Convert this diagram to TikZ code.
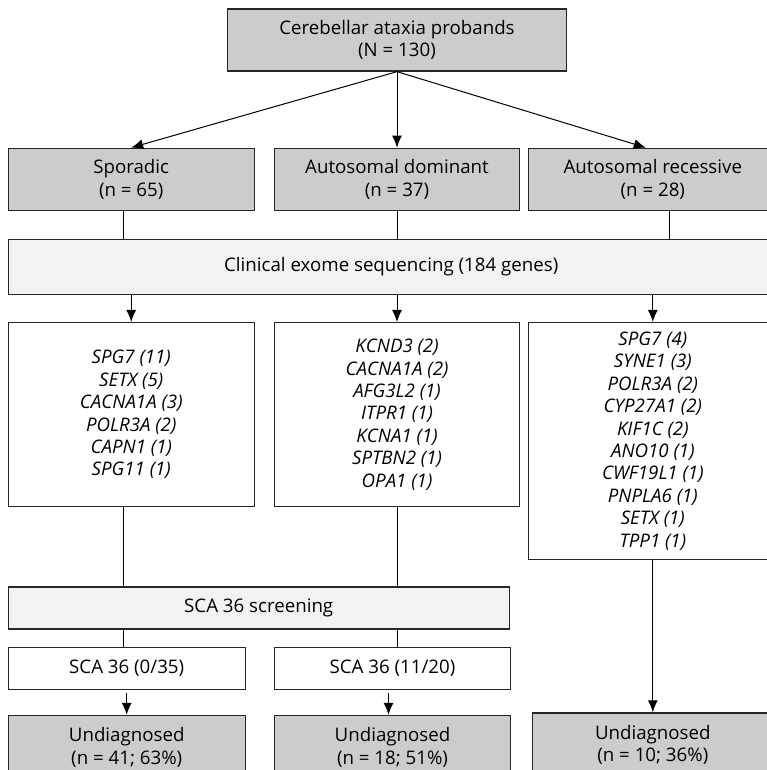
\documentclass[tikz,border=0pt]{standalone}
\usepackage{fontspec}
\setmainfont{Open Sans}
\usetikzlibrary{arrows.meta, positioning}

\begin{document}
\begin{tikzpicture}[
            > = {Latex[length=12pt,width=10pt]},
            line width = 1pt,
            node distance = 28pt,
            font = \fontsize{18.7}{22.4}\selectfont
        ]

        \tikzstyle{darkbox}=[
            draw = black!85,
            line width = 1.3pt,
            fill = black!20,
            align = center,
            inner sep = 0pt
        ]
        \tikzstyle{lightbox}=[darkbox, fill=black!5]
        \tikzstyle{plainbox}=[darkbox, fill=white]
        \tikzstyle{genebox}=[plainbox, font=\fontsize{18.7}{22.4}\selectfont\itshape]

        \useasboundingbox (0,0) rectangle (766pt,-770pt);

        \node[darkbox, minimum width=339pt, minimum height=62pt] (probands) at (397pt,-40pt) {Cerebellar ataxia probands\\(N = 130)};
        \node[darkbox, minimum width=245pt, minimum height=62pt] (dominant) [below=76pt of probands] {Autosomal dominant\\(n = 37)};
        \node[darkbox, minimum width=246pt, minimum height=62pt] (sporadic) [left=19pt of dominant] {Sporadic\\(n = 65)};
        \node[darkbox, minimum width=248pt, minimum height=62pt] (recessive) [right=8pt of dominant] {Autosomal recessive\\(n = 28)};

        \node[lightbox, minimum width=766pt, minimum height=55pt, anchor=north west] (exome) at ([yshift=-28pt]sporadic.south west) {Clinical exome sequencing (184 genes)};

        \node[genebox, minimum width=246pt, minimum height=184pt] (sporgenes) [below=111pt of sporadic] {SPG7 (11)\\SETX (5)\\CACNA1A (3)\\POLR3A (2)\\CAPN1 (1)\\SPG11 (1)};
        \node[genebox, minimum width=245pt, minimum height=184pt] (domgenes) [below=111pt of dominant] {KCND3 (2)\\CACNA1A (2)\\AFG3L2 (1)\\ITPR1 (1)\\KCNA1 (1)\\SPTBN2 (1)\\OPA1 (1)};
        \node[genebox, minimum width=248pt, minimum height=237pt] (recgenes) [below=111pt of recessive] {SPG7 (4)\\SYNE1 (3)\\POLR3A (2)\\CYP27A1 (2)\\KIF1C (2)\\ANO10 (1)\\CWF19L1 (1)\\PNPLA6 (1)\\SETX (1)\\TPP1 (1)};

        \node[lightbox, minimum width=501pt, minimum height=42pt, anchor=north west] (screening) at ([yshift=-79pt]sporgenes.south west) {SCA 36 screening};
        \node[plainbox, minimum width=237pt, minimum height=42pt, anchor=north west] (sporsca) at ([yshift=-17pt]screening.south west) {SCA 36 (0/35)};
        \node[plainbox, minimum width=236pt, minimum height=42pt] (domsca) [right=28pt of sporsca] {SCA 36 (11/20)};

        \node[darkbox, minimum width=237pt, minimum height=64pt] (sporundiag) [below=25pt of sporsca] {Undiagnosed\\(n = 41; 63\%)};
        \node[darkbox, minimum width=236pt, minimum height=64pt] (domundiag) [below=25pt of domsca] {Undiagnosed\\(n = 18; 51\%)};
        \node[darkbox, minimum width=240pt, minimum height=64pt] (recundiag) [below=152pt of recgenes] {Undiagnosed\\(n = 10; 36\%)};

        \draw[->] (probands.south) -- (sporadic.north);
        \draw[->] (probands.south) -- (dominant.north);
        \draw[->] (probands.south) -- ([xshift=-7pt]recessive.north);

        % into and out of the exome panel
        \draw ([xshift=-8pt]sporadic.south) -- ([xshift=-8pt]sporadic.south |- exome.north);
        \draw (dominant.south) -- (dominant.south |- exome.north);
        \draw ([xshift=17pt]recessive.south) -- ([xshift=17pt]recessive.south |- exome.north);
        \draw[->] (sporgenes.north |- exome.south) -- (sporgenes.north);
        \draw[->] (domgenes.north |- exome.south) -- (domgenes.north);
        \draw[->] (recgenes.north |- exome.south) -- (recgenes.north);

        % screening
        \draw ([xshift=-8pt]sporgenes.south) -- ([xshift=-8pt]sporgenes.south |- screening.north);
        \draw (domgenes.south) -- (domgenes.south |- screening.north);
        \draw ([xshift=-8pt]sporgenes.south |- screening.south) -- ([xshift=-8pt]sporgenes.south |- sporsca.north);
        \draw (domgenes.south |- screening.south) -- (domgenes.south |- domsca.north);

        \draw[->, shorten <=3pt] (sporsca.south) -- (sporundiag.north);
        \draw[->, shorten <=3pt] ([xshift=-4pt]domsca.south) -- ([xshift=-4pt]domundiag.north);
        \draw[->] (recgenes.south) -- (recundiag.north);

    \end{tikzpicture}
\end{document}
